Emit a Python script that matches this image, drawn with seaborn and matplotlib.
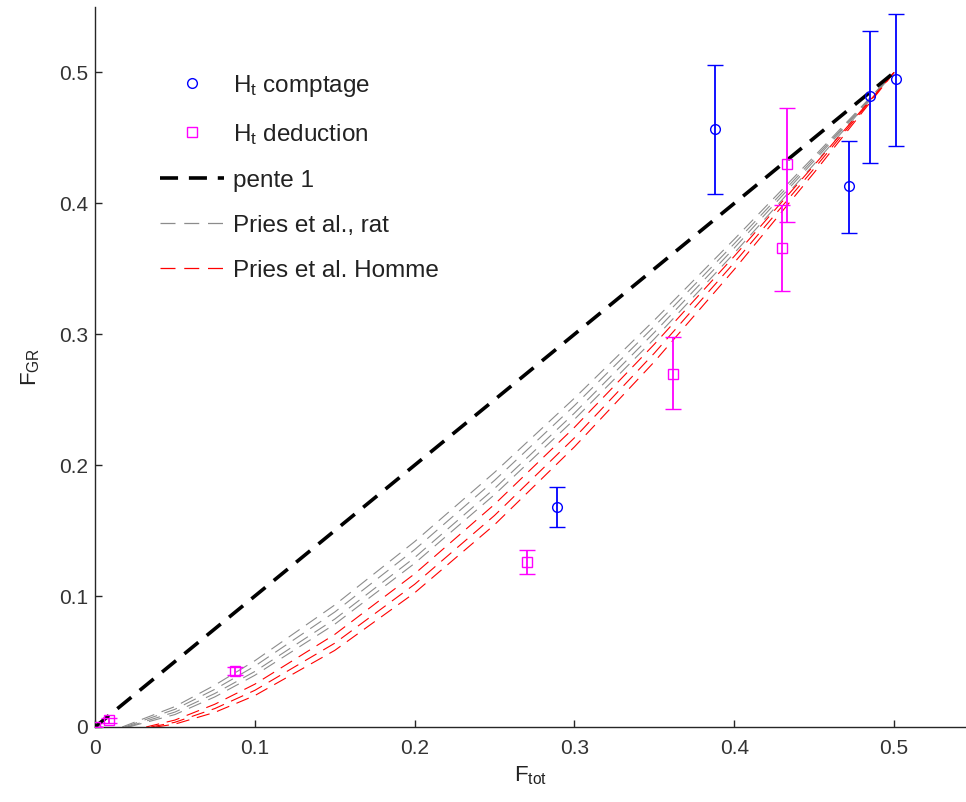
import numpy as np
import pandas as pd
import matplotlib
matplotlib.use("Agg")
import matplotlib.pyplot as plt
from matplotlib.lines import Line2D
import seaborn as sns

# ---------------- data ----------------
curve_x = [0.05, 0.075, 0.1, 0.15, 0.2, 0.25, 0.3, 0.35, 0.4, 0.45, 0.5]

# Pries et al., rat (gray)
rat_start = [0.017, 0.0185, 0.02, 0.021]
rat_y = [
    [0.0156, 0.0320, 0.0506, 0.0932, 0.1416, 0.1945, 0.2512, 0.3108, 0.3726, 0.4359, 0.5],
    [0.0135, 0.0288, 0.0465, 0.0878, 0.1355, 0.1884, 0.2455, 0.3061, 0.3692, 0.4342, 0.5],
    [0.0114, 0.0256, 0.0424, 0.0824, 0.1294, 0.1822, 0.2398, 0.3014, 0.3659, 0.4325, 0.5],
    [0.0095, 0.0230, 0.0395, 0.0785, 0.1250, 0.1775, 0.2350, 0.2965, 0.3620, 0.4300, 0.5],
]

# Pries et al. Homme (red)
homme_start = [0.032, 0.035, 0.038]
homme_y = [
    [0.0053, 0.0174, 0.0327, 0.0707, 0.1170, 0.1701, 0.2289, 0.2924, 0.3596, 0.4292, 0.5],
    [0.0036, 0.0141, 0.0280, 0.0640, 0.1090, 0.1616, 0.2209, 0.2856, 0.3547, 0.4266, 0.5],
    [0.0022, 0.0112, 0.0240, 0.0585, 0.1025, 0.1545, 0.2140, 0.2790, 0.3495, 0.4235, 0.5],
]

# pente 1
pente_x = [0.0, 0.5]
pente_y = [0.0, 0.5]

# H_t comptage (blue circles)
comp_x = [0.388, 0.289, 0.472, 0.485, 0.501]
comp_y = [0.457, 0.168, 0.413, 0.482, 0.495]
comp_lo = [0.407, 0.153, 0.377, 0.431, 0.444]
comp_hi = [0.506, 0.183, 0.448, 0.532, 0.545]

# H_t deduction (magenta squares)
ded_x = [0.0, 0.0088, 0.0876, 0.2703, 0.3617, 0.430, 0.433]
ded_y = [0.0, 0.0050, 0.0425, 0.126, 0.270, 0.366, 0.430]
ded_lo = [0.0, 0.0028, 0.0395, 0.117, 0.243, 0.333, 0.386]
ded_hi = [0.0, 0.0072, 0.0455, 0.135, 0.298, 0.399, 0.473]

xticks = [0, 0.1, 0.2, 0.3, 0.4, 0.5]
yticks = [0, 0.1, 0.2, 0.3, 0.4, 0.5]
tick_labels = ["0", "0.1", "0.2", "0.3", "0.4", "0.5"]

# ---------------- plot ----------------
sns.set_style("ticks")
plt.rcParams["font.family"] = ["Liberation Sans", "DejaVu Sans"]
plt.rcParams["mathtext.fontset"] = "custom"
plt.rcParams["mathtext.rm"] = "Liberation Sans"
plt.rcParams["mathtext.it"] = "Liberation Sans"

fig = plt.figure(figsize=(9.66, 8.02), dpi=100)
ax = fig.add_axes([95 / 966, 75 / 802, 871 / 966, 720 / 802])

BLUE = "#0000ff"
MAG = "#ff00ff"
GRAY = "#8c8c8c"
RED = "#ff0000"

# black dashed line (pente 1)
sns.lineplot(x=pente_x, y=pente_y, ax=ax, color="black", lw=2.6,
             linestyle=(0, (5, 3)), legend=False, zorder=3)

for s, ys in zip(rat_start, rat_y):
    sns.lineplot(x=[s] + curve_x, y=[0.0] + ys, ax=ax, color=GRAY, lw=0.8,
                 linestyle=(0, (12, 7)), legend=False, sort=False,
                 estimator=None, zorder=2)
for s, ys in zip(homme_start, homme_y):
    sns.lineplot(x=[s] + curve_x, y=[0.0] + ys, ax=ax, color=RED, lw=0.8,
                 linestyle=(0, (12, 7)), legend=False, sort=False,
                 estimator=None, zorder=2)

# error bars
cy = np.array(comp_y)
ax.errorbar(comp_x, comp_y,
            yerr=[cy - np.array(comp_lo), np.array(comp_hi) - cy],
            fmt="o", mfc="none", mec=BLUE, ms=7, mew=1.0, ecolor=BLUE,
            elinewidth=1.3, capsize=6, capthick=1.3, zorder=4)
dy = np.array(ded_y)
ax.errorbar(ded_x, ded_y,
            yerr=[dy - np.array(ded_lo), np.array(ded_hi) - dy],
            fmt="s", mfc="none", mec=MAG, ms=7, mew=1.0, ecolor=MAG,
            elinewidth=1.3, capsize=6, capthick=1.3, zorder=4)

ax.set_xlim(0, 0.545)
ax.set_ylim(0, 0.55)
ax.set_xticks(xticks)
ax.set_xticklabels(tick_labels)
ax.set_yticks(yticks)
ax.set_yticklabels(tick_labels)
sns.despine(ax=ax)
for sp in ["left", "bottom"]:
    ax.spines[sp].set_color("#262626")
    ax.spines[sp].set_linewidth(1.0)
ax.tick_params(axis="both", direction="in", length=5, width=1.0,
               colors="#262626", labelsize=15, labelcolor="#333333")
ax.tick_params(axis="x", pad=9)
ax.tick_params(axis="y", pad=5)

ax.set_xlabel(r"F$_{\mathrm{tot}}$", fontsize=16, color="#222222", labelpad=4)
ax.set_ylabel(r"F$_{\mathrm{GR}}$", fontsize=16, color="#222222", labelpad=12)

handles = [
    Line2D([], [], ls="none", marker="o", mfc="none", mec=BLUE, ms=7, mew=1.0),
    Line2D([], [], ls="none", marker="s", mfc="none", mec=MAG, ms=7, mew=1.0),
    Line2D([], [], color="black", lw=2.6, linestyle=(0, (5, 3))),
    Line2D([], [], color=GRAY, lw=0.9, linestyle=(0, (12, 7))),
    Line2D([], [], color=RED, lw=0.9, linestyle=(0, (12, 7))),
]
labels = [r"H$_{\mathrm{t}}$ comptage", r"H$_{\mathrm{t}}$ deduction",
          "pente 1", "Pries et al., rat", "Pries et al. Homme"]
leg = ax.legend(handles, labels, loc="upper left",
                bbox_to_anchor=(0.075, 0.909), frameon=False, fontsize=17.5,
                handlelength=2.6, handletextpad=0.4, labelspacing=0.95,
                borderaxespad=0, borderpad=0)
for t in leg.get_texts():
    t.set_color("#222222")

fig.savefig("out.png", dpi=100)
